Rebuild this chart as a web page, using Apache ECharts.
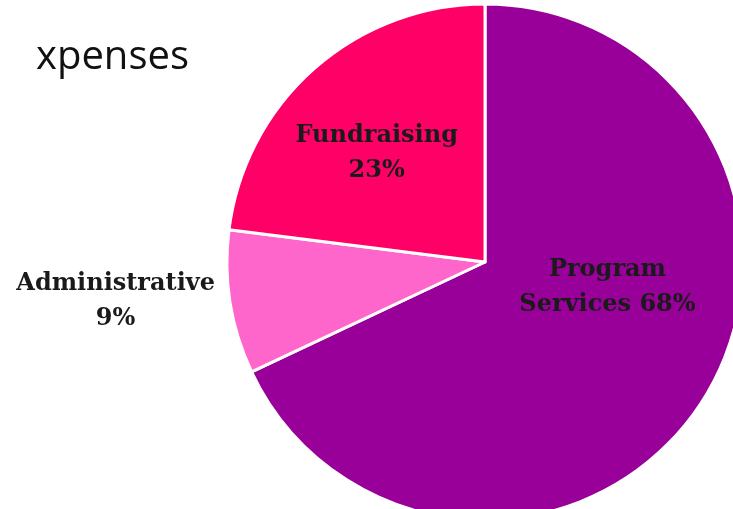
<!DOCTYPE html>
<html>
<head>
<meta charset="utf-8">
<script src="https://cdn.jsdelivr.net/npm/echarts@6/dist/echarts.min.js"></script>
<style>
html,body{margin:0;padding:0;background:#fff;}
#c{width:733px;height:509px;}
</style>
</head>
<body>
<div id="c"></div>
<script>
const titleText = 'xpenses';
const categories = ['Program Services', 'Administrative', 'Fundraising'];
const values = [68, 9, 23];
const colors = ['#990099', '#FF66CC', '#FF0066'];
const labelOffsets = [[11, -45], [-239, 19], [-21, -10]];
const labelFormats = ['Program\nServices 68%', 'Administrative\n9%', 'Fundraising\n23%'];

const chart = echarts.init(document.getElementById('c'), null, {renderer: 'canvas'});
chart.setOption({
  backgroundColor: '#ffffff',
  animation: false,
  title: {
    text: titleText,
    left: 31,
    top: 33,
    textStyle: {fontFamily: 'Open Sans', fontWeight: 'normal', fontSize: 40, color: '#111'}
  },
  series: [{
    type: 'pie',
    center: [485, 262],
    radius: 258,
    startAngle: 90,
    clockwise: true,
    avoidLabelOverlap: false,
    itemStyle: {borderColor: '#ffffff', borderWidth: 3},
    labelLine: {show: false},
    data: categories.map((name, i) => ({
      name: name,
      value: values[i],
      itemStyle: {color: colors[i]},
      label: {
        show: true,
        position: 'inside',
        offset: labelOffsets[i],
        formatter: labelFormats[i],
        fontFamily: 'DejaVu Serif',
        fontWeight: 'bold',
        fontSize: 24,
        lineHeight: 35,
        color: '#1a1a1a',
        align: 'center'
      }
    }))
  }]
});
</script>
</body>
</html>
